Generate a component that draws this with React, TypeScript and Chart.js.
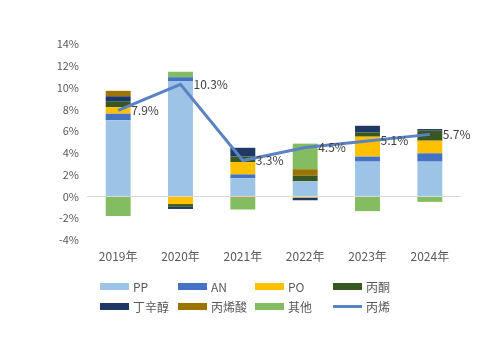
import React, { useEffect, useRef } from "react";
import { Chart, registerables } from "chart.js";

Chart.register(...registerables);

const categories = ["2019年", "2020年", "2021年", "2022年", "2023年", "2024年"];
const PP = [7.0, 10.6, 1.68, 1.4, 3.2, 3.2];
const AN = [0.6, 0.35, 0.34, 0, 0.46, 0.76];
const PO = [0.6, -0.7, 1.13, -0.1, 1.83, 1.16];
const acetone = [0.5, -0.25, 0.52, 0.5, 0.4, 0.92];
const octanol = [0.5, -0.2, 0.8, -0.25, 0.6, 0.15];
const acrylic = [0.5, 0, -0.1, 0.6, 0, 0];
const others = [-1.8, 0.5, -1.1, 2.35, -1.35, -0.5];
const propylene = [7.9, 10.3, 3.3, 4.5, 5.1, 5.7];
const yTicks = { min: -4, max: 14, step: 2 };

const barSeries = [
  { label: "PP", data: PP, color: "#9DC3E6" },
  { label: "AN", data: AN, color: "#4472C4" },
  { label: "PO", data: PO, color: "#FFC000" },
  { label: "丙酮", data: acetone, color: "#385723" },
  { label: "丁辛醇", data: octanol, color: "#203864" },
  { label: "丙烯酸", data: acrylic, color: "#9C7400" },
  { label: "其他", data: others, color: "#84BC61" },
];
const lineColor = "#5B83C4";
const FONT = "'Noto Sans CJK SC', 'Noto Sans', sans-serif";

const labelPlugin = {
  id: "lineLabels",
  afterDatasetsDraw(chart: any) {
    const idx = chart.data.datasets.length - 1;
    const meta = chart.getDatasetMeta(idx);
    const ctx = chart.ctx;
    ctx.save();
    ctx.font = `12px ${FONT}`;
    ctx.fillStyle = "#404040";
    ctx.textAlign = "left";
    ctx.textBaseline = "middle";
    meta.data.forEach((pt: any, i: number) => {
      ctx.fillText(propylene[i].toFixed(1) + "%", pt.x + 13, pt.y);
    });
    ctx.restore();
  },
};

export default function App() {
  const ref = useRef<HTMLCanvasElement>(null);
  useEffect(() => {
    const datasets: any[] = barSeries.map((s) => ({
      type: "bar",
      label: s.label,
      data: s.data,
      backgroundColor: s.color,
      borderWidth: 0,
      stack: "bars",
      order: 1,
      barPercentage: 0.4,
      categoryPercentage: 1,
    }));
    datasets.push({
      type: "line",
      label: "丙烯",
      data: propylene,
      borderColor: lineColor,
      backgroundColor: lineColor,
      borderWidth: 3,
      pointRadius: 0,
      stack: "line",
      order: 0,
      tension: 0,
    });
    const chart = new Chart(ref.current!, {
      type: "bar",
      data: { labels: categories, datasets },
      plugins: [labelPlugin],
      options: {
        animation: false,
        responsive: false,
        layout: { padding: { left: 7, right: 39, top: 44, bottom: 0 } },
        plugins: { legend: { display: false }, tooltip: { enabled: false } },
        scales: {
          x: {
            stacked: true,
            grid: { display: false, drawTicks: false },
            border: { display: false },
            ticks: { color: "#595959", font: { family: FONT, size: 12 }, padding: 9 },
            afterFit: (s: any) => { s.height = 113; },
          },
          y: {
            stacked: true,
            min: yTicks.min,
            max: yTicks.max,
            ticks: {
              stepSize: yTicks.step,
              color: "#595959",
              font: { family: FONT, size: 11 },
              padding: 8,
              callback: (v: any) => v + "%",
            },
            grid: {
              drawTicks: false,
              color: (c: any) => (c.tick && c.tick.value === 0 ? "#D9D9D9" : "rgba(0,0,0,0)"),
            },
            border: { display: false },
            afterFit: (s: any) => { s.width = 80; },
          },
        },
      },
    });
    return () => chart.destroy();
  }, []);

  const legendItems = [
    ...barSeries.map((s) => ({ label: s.label, color: s.color, line: false })),
    { label: "丙烯", color: lineColor, line: true },
  ];
  const colX = [100, 178, 255, 333];
  const rowY = [286, 306];

  return (
    <div style={{ position: "fixed", left: 0, top: 0, width: 500, height: 353, background: "#fff" }}>
      <canvas ref={ref} width={500} height={353} style={{ position: "absolute", left: 0, top: 0 }} />
      {legendItems.map((it, i) => {
        const x = colX[i % 4];
        const y = rowY[Math.floor(i / 4)];
        return (
          <div key={it.label} style={{ position: "absolute", left: x, top: y - 10, height: 20, display: "flex", alignItems: "center", fontFamily: FONT, fontSize: 12, color: "#595959", whiteSpace: "nowrap" }}>
            <span style={{ display: "inline-block", width: 29, height: it.line ? 3 : 7, background: it.color, marginRight: 4 }} />
            <span>{it.label}</span>
          </div>
        );
      })}
    </div>
  );
}
